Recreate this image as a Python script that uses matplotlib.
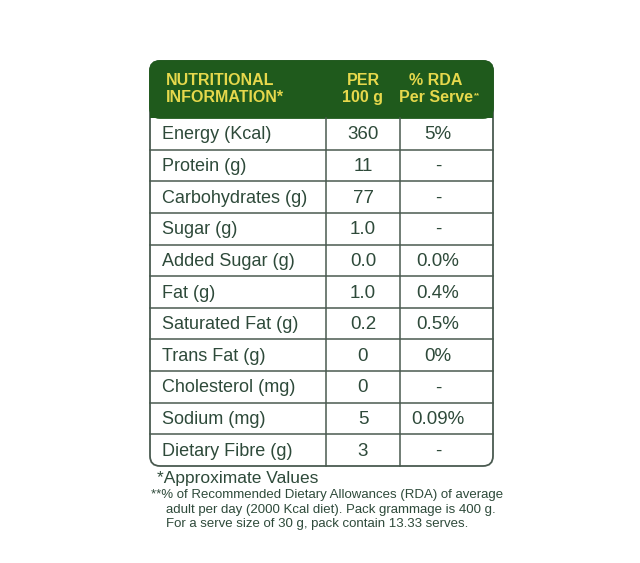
import matplotlib.pyplot as plt
from matplotlib.patches import FancyBboxPatch, Rectangle

plt.rcParams['font.family'] = ['Liberation Sans Narrow', 'Liberation Sans', 'DejaVu Sans']

nutrients = ['Energy (Kcal)', 'Protein (g)', 'Carbohydrates (g)', 'Sugar (g)',
             'Added Sugar (g)', 'Fat (g)', 'Saturated Fat (g)', 'Trans Fat (g)',
             'Cholesterol (mg)', 'Sodium (mg)', 'Dietary Fibre (g)']
per_100g = ['360', '11', '77', '1.0', '0.0', '1.0', '0.2', '0', '0', '5', '3']
rda_per_serve = ['5%', '-', '-', '-', '0.0%', '0.4%', '0.5%', '0%', '-', '0.09%', '-']

green = '#1f5a1c'
yellow = '#e6d84c'
txt = '#2e4a3a'
line = '#4a5a50'

fig = plt.figure(figsize=(6.4, 5.63), dpi=100)
ax = fig.add_axes([0, 0, 1, 1])
ax.set_xlim(0, 640)
ax.set_ylim(563, 0)
ax.axis('off')

x0, x1 = 150, 493
top, head_bot, bot = 61, 118, 466
c1, c2 = 326, 400
r = 10

ax.add_patch(FancyBboxPatch((x0, top), x1 - x0, bot - top,
                            boxstyle=f'round,pad=0,rounding_size={r}',
                            fc='white', ec=line, lw=1.3))
ax.add_patch(FancyBboxPatch((x0, top), x1 - x0, head_bot - top,
                            boxstyle=f'round,pad=0,rounding_size={r}',
                            fc=green, ec=green, lw=1.3))
ax.add_patch(Rectangle((x0, head_bot - r), x1 - x0, r, fc=green, ec='none'))

hkw = dict(color=yellow, fontsize=11.5, fontweight='bold', va='center', linespacing=1.15)
ax.text(166, 89, 'NUTRITIONAL\nINFORMATION*', ha='left', **hkw)
ax.text(363, 89, 'PER\n100 g', ha='center', **hkw)
ax.text(436, 89, '% RDA\nPer Serve', ha='center', **hkw)
ax.text(474, 96, '**', color=yellow, fontsize=5.5, fontweight='bold', va='center')

n = len(nutrients)
h = (bot - head_bot) / n
for i in range(n):
    y = head_bot + i * h
    if i > 0:
        ax.plot([x0, x1], [y, y], color=line, lw=1.1)
    yc = y + h / 2 + 1
    ax.text(162, yc, nutrients[i], color=txt, fontsize=13, va='center', ha='left')
    ax.text(363, yc, per_100g[i], color=txt, fontsize=13.5, va='center', ha='center')
    ax.text(438, yc, rda_per_serve[i], color=txt, fontsize=13.5, va='center', ha='center')
for xc in (c1, c2):
    ax.plot([xc, xc], [head_bot, bot], color=line, lw=1.1)

ax.text(157, 478, '*Approximate Values', color=txt, fontsize=12.5, va='center')
ax.text(151, 495, '**% of Recommended Dietary Allowances (RDA) of average',
        color=txt, fontsize=9.5, va='center')
ax.text(166, 510, 'adult per day (2000 Kcal diet). Pack grammage is 400 g.',
        color=txt, fontsize=9.5, va='center')
ax.text(166, 524, 'For a serve size of 30 g, pack contain 13.33 serves.',
        color=txt, fontsize=9.5, va='center')

fig.savefig('out.png', dpi=100, facecolor='white')
